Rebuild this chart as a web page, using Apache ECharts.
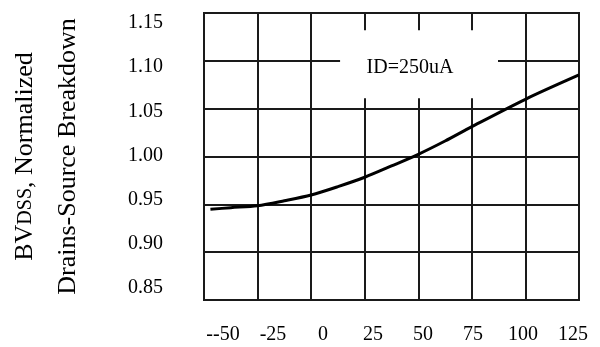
<!DOCTYPE html>
<html>
<head>
<meta charset="utf-8">
<script src="https://cdn.jsdelivr.net/npm/echarts@6/dist/echarts.min.js"></script>
<style>html,body{margin:0;padding:0;background:#fff}#c{width:600px;height:347px}</style>
</head>
<body>
<div id="c"></div>
<script>
// Temperature (°C) and normalized breakdown voltage
var temps = [-47, -37.5, -25, -12.5, 0, 12.5, 25, 37.5, 50, 62.5, 75, 100, 125];
var bvdss = [0.9448, 0.9465, 0.9486, 0.9538, 0.9598, 0.9685, 0.9783, 0.9901, 1.0023, 1.0162, 1.0312, 1.0598, 1.0852];
var xTicks = [-50, -25, 0, 25, 50, 75, 100, 125];
var yTicks = [0.85, 0.90, 0.95, 1.00, 1.05, 1.10, 1.15];
var annotationText = 'ID=250uA';
var yTitleLine1 = ['BV', 'DSS', ', Normalized'];
var yTitleLine2 = 'Drains-Source Breakdown';

var chart = echarts.init(document.getElementById('c'), null, {renderer: 'canvas'});
var font = 'Liberation Serif';
var gridLine = {color: '#1a1a1a', width: 2};
var xMin = xTicks[0], xMax = xTicks[xTicks.length - 1];
var yMin = yTicks[0], yMax = yTicks[yTicks.length - 1];
chart.setOption({
  animation: false,
  backgroundColor: '#fff',
  grid: [
    {left: 204, right: 21, top: 13, bottom: 47, show: true, borderColor: '#1a1a1a', borderWidth: 2, outerBoundsMode: 'none', containLabel: false},
    // label grid: tick labels in the original are spread slightly differently from the plot lines
    {left: 223, right: 27, top: 23, bottom: 59, show: false, outerBoundsMode: 'none', containLabel: false}
  ],
  xAxis: [{
    gridIndex: 0, type: 'value', min: xMin, max: xMax, interval: 25,
    axisLine: {show: false}, axisTick: {show: false}, axisLabel: {show: false},
    splitLine: {show: true, lineStyle: gridLine}
  }, {
    gridIndex: 1, type: 'value', min: xMin, max: xMax, interval: 25,
    axisLine: {show: false}, axisTick: {show: false}, splitLine: {show: false},
    axisLabel: {
      margin: 37, color: '#000', fontFamily: font, fontSize: 20,
      formatter: function (v) { return v === -50 ? '--50' : String(v); }
    }
  }],
  yAxis: [{
    gridIndex: 0, type: 'value', min: yMin, max: yMax, interval: 0.05,
    axisLine: {show: false}, axisTick: {show: false}, axisLabel: {show: false},
    splitLine: {show: true, lineStyle: gridLine},
    name: '{a|' + yTitleLine1[0] + '}{b|' + yTitleLine1[1] + '}{a|' + yTitleLine1[2] + '}\n{a|' + yTitleLine2 + '}',
    nameLocation: 'middle', nameRotate: 90, nameGap: 114,
    nameTextStyle: {
      color: '#000', fontFamily: font, fontSize: 26, lineHeight: 43,
      rich: {
        a: {color: '#000', fontFamily: font, fontSize: 26, lineHeight: 43},
        b: {color: '#000', fontFamily: font, fontSize: 20, lineHeight: 43}
      }
    }
  }, {
    gridIndex: 1, type: 'value', min: yMin, max: yMax, interval: 0.05,
    axisLine: {show: false}, axisTick: {show: false}, splitLine: {show: false},
    axisLabel: {
      margin: 60, color: '#000', fontFamily: font, fontSize: 20,
      formatter: function (v) { return v.toFixed(2); }
    }
  }],
  series: [{
    type: 'line', xAxisIndex: 0, yAxisIndex: 0,
    data: temps.map(function (t, i) { return [t, bvdss[i]]; }),
    smooth: 0.3, showSymbol: false,
    lineStyle: {color: '#000', width: 3},
    z: 5,
    markArea: {
      silent: true,
      itemStyle: {color: '#fff'},
      label: {show: true, position: 'inside', offset: [-9, 4], color: '#000', fontFamily: font, fontSize: 20},
      data: [[{name: annotationText, coord: [13.5, 1.132]}, {coord: [87.2, 1.061]}]]
    }
  }]
});
</script>
</body>
</html>
